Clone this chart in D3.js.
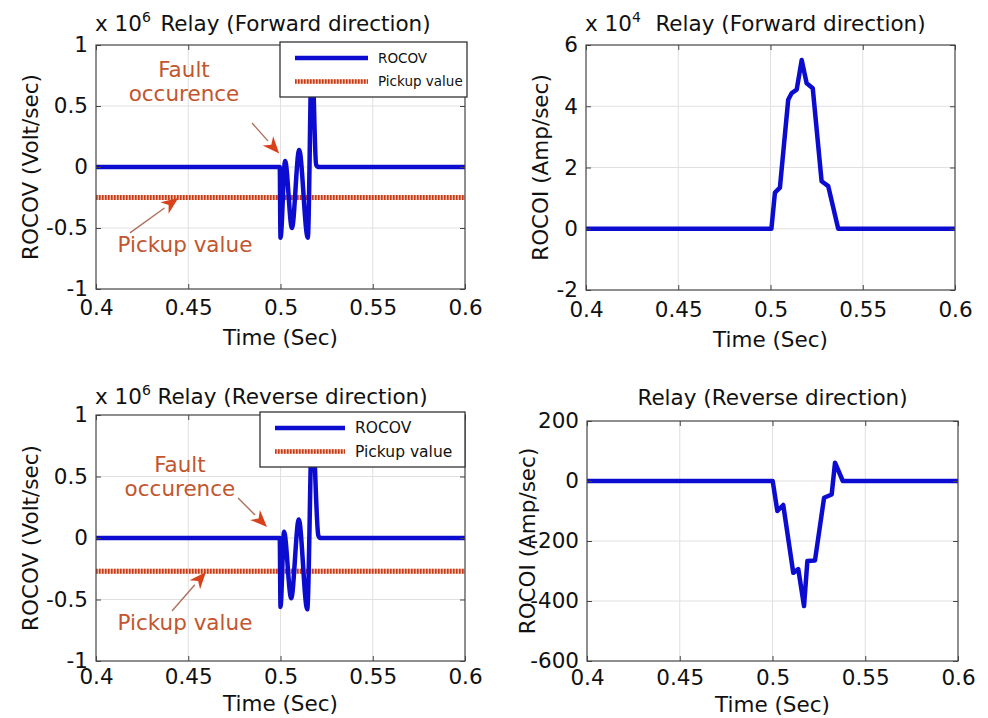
<!DOCTYPE html>
<html>
<head>
<meta charset="utf-8">
<script src="https://cdn.jsdelivr.net/npm/d3@7"></script>
<style>
    body { margin: 0; background: #fff; }
    svg text { font-family: "DejaVu Sans", sans-serif; }
</style>
</head>
<body>
<svg id="fig" width="988" height="718"></svg>
<script>
const timeTicks = [0.4, 0.45, 0.5, 0.55, 0.6];
const voltTicks = [-1, -0.5, 0, 0.5, 1];
const fwdCurrTicks = [-2, 0, 2, 4, 6];
const revCurrTicks = [-600, -400, -200, 0, 200];

// ROCOV, forward relay (x 10^6 Volt/sec)
const fwdVoltTime = [0.4, 0.4996, 0.5, 0.5025, 0.5062, 0.5101, 0.5148, 0.517, 0.5193, 0.5205, 0.6];
const fwdVoltVal = [0, 0, -0.58, 0.05, -0.5, 0.14, -0.58, 0.95, 0.02, 0, 0];
const fwdPickup = -0.25;

// ROCOI, forward relay (x 10^4 Amp/sec)
const fwdCurrTime = [0.4, 0.5005, 0.5024, 0.5051, 0.5096, 0.5115, 0.5142, 0.5169, 0.5196, 0.5229, 0.5277, 0.5313, 0.5367, 0.6];
const fwdCurrVal = [0, 0, 1.18, 1.34, 4.21, 4.43, 4.54, 5.51, 4.75, 4.59, 1.55, 1.39, 0, 0];

// ROCOV, reverse relay (x 10^6 Volt/sec)
const revVoltTime = [0.4, 0.4996, 0.5, 0.5019, 0.5058, 0.5099, 0.5145, 0.5172, 0.5205, 0.5215, 0.6];
const revVoltVal = [0, 0, -0.56, 0.05, -0.49, 0.15, -0.58, 0.95, 0.02, 0, 0];
const revPickup = -0.27;

// ROCOI, reverse relay (Amp/sec)
const revCurrTime = [0.4, 0.5001, 0.5026, 0.5058, 0.5112, 0.5139, 0.517, 0.5188, 0.5229, 0.5278, 0.5319, 0.5337, 0.5379, 0.6];
const revCurrVal = [0, 0, -100, -80, -306, -294, -417, -267, -265, -56, -45, 61, 0, 0];

const svg = d3.select("#fig");
const blue = "#0c0cd0";
const annColor = "#c2562f";
const ink = "#111";

function drawPanel(p) {
    const x = d3.scaleLinear().domain([0.4, 0.6]).range([p.left, p.right]);
    const y = d3.scaleLinear().domain(d3.extent(p.yTicks)).range([p.bottom, p.top]);
    const g = svg.append("g");

    // grid
    g.selectAll(".gx").data(timeTicks.slice(1, -1)).join("line")
        .attr("x1", d => x(d)).attr("x2", d => x(d))
        .attr("y1", p.top).attr("y2", p.bottom)
        .attr("stroke", "#e0e0e0").attr("stroke-width", 1);
    g.selectAll(".gy").data(p.yTicks.slice(1, -1)).join("line")
        .attr("y1", d => y(d)).attr("y2", d => y(d))
        .attr("x1", p.left).attr("x2", p.right)
        .attr("stroke", "#e0e0e0").attr("stroke-width", 1);

    // pickup line
    if (p.pickup !== undefined) {
        g.append("line")
            .attr("x1", p.left).attr("x2", p.right)
            .attr("y1", y(p.pickup)).attr("y2", y(p.pickup))
            .attr("stroke", "#f1b9a3").attr("stroke-width", 5);
        g.append("line")
            .attr("x1", p.left).attr("x2", p.right)
            .attr("y1", y(p.pickup)).attr("y2", y(p.pickup))
            .attr("stroke", "#c63c1a").attr("stroke-width", 5)
            .attr("stroke-dasharray", "1.6 1.4");
    }

    // signal
    const pts = p.time.map((t, i) => [t, p.val[i]]);
    const line = d3.line()
        .x(d => x(d[0])).y(d => y(d[1]))
        .curve(p.smooth ? d3.curveMonotoneX : d3.curveLinear);
    g.append("path").datum(pts)
        .attr("d", line)
        .attr("fill", "none").attr("stroke", blue)
        .attr("stroke-width", 4.5).attr("stroke-linejoin", "round");

    // frame + axes
    g.append("rect")
        .attr("x", p.left).attr("y", p.top)
        .attr("width", p.right - p.left).attr("height", p.bottom - p.top)
        .attr("fill", "none").attr("stroke", "#444").attr("stroke-width", 1.2);

    const fmt = d => String(d);
    g.append("g").attr("transform", `translate(0,${p.bottom})`)
        .call(d3.axisBottom(x).tickValues(timeTicks).tickSize(-5).tickPadding(p.xPad).tickFormat(fmt));
    g.append("g").attr("transform", `translate(${p.left},0)`)
        .call(d3.axisLeft(y).tickValues(p.yTicks).tickSize(-5).tickPadding(8).tickFormat(fmt));
    g.append("g").attr("transform", `translate(0,${p.top})`)
        .call(d3.axisTop(x).tickValues(timeTicks).tickSize(-5).tickFormat(""));
    g.append("g").attr("transform", `translate(${p.right},0)`)
        .call(d3.axisRight(y).tickValues(p.yTicks).tickSize(-5).tickFormat(""));
    g.selectAll(".domain").remove();
    g.selectAll(".tick line").attr("stroke", "#444");
    g.selectAll(".tick text").attr("font-size", 21.5).style("fill", ink)
        .style("font-family", "DejaVu Sans, sans-serif");

    // labels
    g.append("text")
        .attr("x", (p.left + p.right) / 2).attr("y", p.xLabelY)
        .attr("text-anchor", "middle").attr("font-size", 21.5).style("fill", ink)
        .text("Time (Sec)");
    g.append("text")
        .attr("transform", `translate(${p.yLabelX},${(p.top + p.bottom) / 2}) rotate(-90)`)
        .attr("text-anchor", "middle").attr("font-size", 21.5).style("fill", ink)
        .text(p.yLabel);

    g.append("text")
        .attr("x", (p.left + p.right) / 2 + p.titleShift).attr("y", p.titleY)
        .attr("text-anchor", "middle").attr("font-size", 21.5).style("fill", ink)
        .text(p.title);
    if (p.exponent) {
        const e = g.append("text").attr("x", p.left - 1).attr("y", p.titleY)
            .attr("font-size", 21.5).style("fill", ink);
        e.append("tspan").text("x 10");
        e.append("tspan").attr("dy", -9).attr("font-size", 14).text(p.exponent);
    }

    // annotations
    if (p.notes) {
        p.notes.forEach(n => {
            const t = g.append("text")
                .attr("text-anchor", "middle").attr("font-size", 21.5)
                .style("fill", annColor);
            n.lines.forEach((s, i) => {
                t.append("tspan")
                    .attr("x", x(n.t)).attr("y", y(n.v) + i * 24)
                    .text(s);
            });
            const x0 = x(n.from[0]), y0 = y(n.from[1]);
            const x1 = x(n.to[0]), y1 = y(n.to[1]);
            const ang = Math.atan2(y1 - y0, x1 - x0);
            const len = 17, hw = 7;
            const bx = x1 - len * Math.cos(ang), by = y1 - len * Math.sin(ang);
            g.append("line")
                .attr("x1", x0).attr("y1", y0).attr("x2", bx).attr("y2", by)
                .attr("stroke", "#b0705c").attr("stroke-width", 1.4);
            const head = [
                [x1, y1],
                [bx + hw * Math.sin(ang), by - hw * Math.cos(ang)],
                [x1 - len * 0.7 * Math.cos(ang), y1 - len * 0.7 * Math.sin(ang)],
                [bx - hw * Math.sin(ang), by + hw * Math.cos(ang)]
            ];
            g.append("path")
                .attr("d", d3.line()(head) + "Z")
                .attr("fill", "#d8421a");
        });
    }

    // legend
    if (p.legend) {
        const L = p.legend;
        const lg = g.append("g");
        lg.append("rect")
            .attr("x", L.x).attr("y", L.y).attr("width", L.w).attr("height", L.h)
            .attr("fill", "#fff").attr("stroke", "#333").attr("stroke-width", 1.3);
        const r1 = L.y + L.h * 0.29, r2 = L.y + L.h * 0.72;
        lg.append("line").attr("x1", L.lx0).attr("x2", L.lx1).attr("y1", r1).attr("y2", r1)
            .attr("stroke", blue).attr("stroke-width", 4.5);
        lg.append("line").attr("x1", L.lx0).attr("x2", L.lx1).attr("y1", r2).attr("y2", r2)
            .attr("stroke", "#f1b9a3").attr("stroke-width", 4.5);
        lg.append("line").attr("x1", L.lx0).attr("x2", L.lx1).attr("y1", r2).attr("y2", r2)
            .attr("stroke", "#c63c1a").attr("stroke-width", 4.5).attr("stroke-dasharray", "1.6 1.4");
        lg.append("text").attr("x", L.tx).attr("y", r1).attr("dy", "0.35em")
            .attr("font-size", L.fs).style("fill", ink).text("ROCOV");
        lg.append("text").attr("x", L.tx).attr("y", r2).attr("dy", "0.35em")
            .attr("font-size", L.fs).style("fill", ink).text("Pickup value");
    }
}

drawPanel({
    left: 96, right: 465, top: 45, bottom: 289,
    yTicks: voltTicks, time: fwdVoltTime, val: fwdVoltVal, smooth: true, pickup: fwdPickup,
    xPad: 11, xLabelY: 345, yLabelX: 38, yLabel: "ROCOV (Volt/sec)",
    title: "Relay (Forward direction)", titleY: 31, titleShift: 15, exponent: "6",
    notes: [
        { lines: ["Fault", "occurence"], t: 0.4477, v: 0.738, from: [0.4846, 0.36], to: [0.4993, 0.11] },
        { lines: ["Pickup value"], t: 0.4482, v: -0.70, from: [0.4184, -0.54], to: [0.4446, -0.255] }
    ],
    legend: { x: 280, y: 42, w: 187, h: 55, lx0: 295, lx1: 368, tx: 378, fs: 13.5 }
});

drawPanel({
    left: 586, right: 955, top: 45, bottom: 290,
    yTicks: fwdCurrTicks, time: fwdCurrTime, val: fwdCurrVal, smooth: false,
    xPad: 12, xLabelY: 347, yLabelX: 548, yLabel: "ROCOI (Amp/sec)",
    title: "Relay (Forward direction)", titleY: 31, titleShift: 20, exponent: "4"
});

drawPanel({
    left: 96, right: 465, top: 415, bottom: 661,
    yTicks: voltTicks, time: revVoltTime, val: revVoltVal, smooth: true, pickup: revPickup,
    xPad: 8, xLabelY: 711, yLabelX: 38, yLabel: "ROCOV (Volt/sec)",
    title: "Relay (Reverse direction)", titleY: 404, titleShift: 12, exponent: "6",
    notes: [
        { lines: ["Fault", "occurence"], t: 0.4455, v: 0.537, from: [0.477, 0.325], to: [0.4927, 0.09] },
        { lines: ["Pickup value"], t: 0.4482, v: -0.748, from: [0.4412, -0.593], to: [0.4596, -0.276] }
    ],
    legend: { x: 260, y: 412, w: 205, h: 55, lx0: 275, lx1: 345, tx: 355, fs: 15.5 }
});

drawPanel({
    left: 587, right: 958, top: 421, bottom: 661,
    yTicks: revCurrTicks, time: revCurrTime, val: revCurrVal, smooth: false,
    xPad: 9, xLabelY: 712, yLabelX: 535, yLabel: "ROCOI (Amp/sec)",
    title: "Relay (Reverse direction)", titleY: 405, titleShift: 0
});
</script>
</body>
</html>
